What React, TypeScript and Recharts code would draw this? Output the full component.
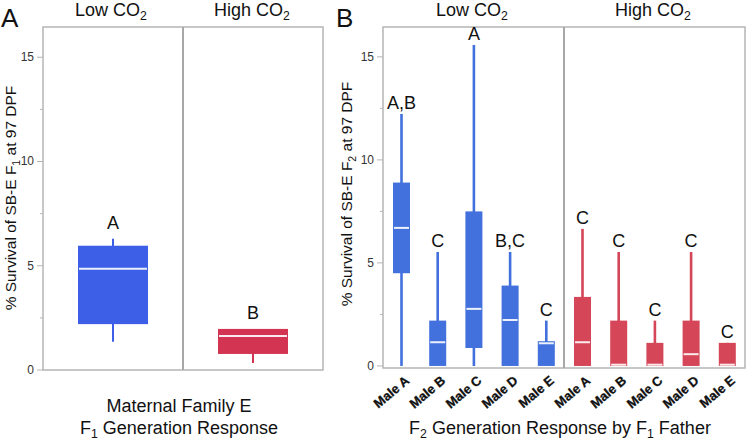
import React from 'react';
import { ComposedChart, Bar, XAxis, YAxis, ReferenceLine, ReferenceArea } from 'recharts';

// Panel A: maternal family E, F1
const groupsA = ['Low CO2', 'High CO2'];
const minA = [1.35, 0.34];
const q1A = [2.2, 0.77];
const medA = [4.85, 1.63];
const q3A = [5.96, 1.97];
const maxA = [6.3, 1.97];
const lettersA = ['A', 'B'];

// Panel B: F2 by F1 father
const males = ['Male A', 'Male B', 'Male C', 'Male D', 'Male E'];
const lowMin = [0, 0, 0, 0, 0];
const lowQ1 = [4.5, 0, 0.87, 0, 0];
const lowMed = [6.7, 1.15, 2.77, 2.23, 1.1];
const lowQ3 = [8.9, 2.2, 7.5, 3.9, 1.2];
const lowMax = [12.23, 5.53, 15.58, 5.53, 2.2];
const lowLetters = ['A,B', 'C', 'A', 'B,C', 'C'];

const highMin = [0, 0, 0, 0, 0];
const highQ1 = [0, 0, 0, 0, 0];
const highMed = [1.15, 0.06, 0.06, 0.57, 0.06];
const highQ3 = [3.35, 2.2, 1.12, 2.2, 1.12];
const highMax = [6.65, 5.53, 2.2, 5.53, 1.12];
const highLetters = ['C', 'C', 'C', 'C', 'C'];

const yTicks = [0, 2.5, 5, 7.5, 10, 12.5, 15];

const FONT = '"Liberation Sans", Arial, Helvetica, sans-serif';
const BLUE_A = '#3d5fe8';
const RED_A = '#d23452';
const BLUE_B = '#4270dd';
const RED_B = '#d54658';
const FRAME = '#b5b5b5';

const dataA = groupsA.map((g, i) => ({
  x: i + 0.5,
  group: g,
  range: [minA[i], maxA[i]],
  q1: q1A[i],
  med: medA[i],
  q3: q3A[i],
  letter: lettersA[i],
  color: i === 0 ? BLUE_A : RED_A,
}));

const dataB = [
  ...males.map((m, i) => ({
    x: i + 0.5,
    male: m,
    range: [lowMin[i], lowMax[i]],
    q1: lowQ1[i],
    med: lowMed[i],
    q3: lowQ3[i],
    letter: lowLetters[i],
    color: BLUE_B,
  })),
  ...males.map((m, i) => ({
    x: i + 5.5,
    male: m,
    range: [highMin[i], highMax[i]],
    q1: highQ1[i],
    med: highMed[i],
    q3: highQ3[i],
    letter: highLetters[i],
    color: RED_B,
  })),
];

const makeBox = (whiskerW: number, letterGap: number) => (props: any) => {
  const { x, y, width, height, payload } = props;
  const lo = payload.range[0];
  const hi = payload.range[1];
  const top = Math.min(y, y + height);
  const k = Math.abs(height) / (hi - lo);
  const py = (v: number) => top + (hi - v) * k;
  const cx = x + width / 2;
  const c = payload.color;
  return (
    <g>
      <line x1={cx} x2={cx} y1={py(hi)} y2={py(lo)} stroke={c} strokeWidth={whiskerW} />
      <rect x={x} y={py(payload.q3)} width={width} height={py(payload.q1) - py(payload.q3)} fill={c} />
      <line
        x1={x + 1}
        x2={x + width - 1}
        y1={py(payload.med)}
        y2={py(payload.med)}
        stroke="#ffffff"
        strokeOpacity={0.9}
        strokeWidth={2}
      />
      <text x={cx} y={py(hi) - letterGap} textAnchor="middle" fontSize={18} fill="#111" fontFamily={FONT}>
        {payload.letter}
      </text>
    </g>
  );
};

const makeYTick = (axisX: number) => (props: any) => {
  const { y, payload } = props;
  const major = payload.value % 5 === 0;
  return (
    <g>
      <line x1={axisX - (major ? 6 : 3)} x2={axisX} y1={y} y2={y} stroke={FRAME} strokeWidth={1} />
      {major && (
        <text x={axisX - 9} y={y} dy={4} textAnchor="end" fontSize={12} fill="#333" fontFamily={FONT}>
          {payload.value}
        </text>
      )}
    </g>
  );
};

const MaleTick = (props: any) => {
  const { x, y, payload } = props;
  const name = males[Math.floor(payload.value) % 5];
  return (
    <text
      transform={`translate(${x + 9},${y + 6}) rotate(-40)`}
      textAnchor="end"
      fontSize={13}
      fontWeight="bold"
      fill="#111"
      stroke="#111"
      strokeWidth={0.3}
      fontFamily={FONT}
    >
      {name}
    </text>
  );
};

// text with subscripts: parts alternate normal / subscript
const Rich = ({ parts }: { parts: string[] }) => (
  <>
    {parts.map((p, i) =>
      i % 2 === 1 ? (
        <tspan key={i} fontSize="0.68em" dy={4}>{p}</tspan>
      ) : (
        <tspan key={i} dy={i === 0 ? 0 : -4}>{p}</tspan>
      )
    )}
  </>
);

export default function App() {
  return (
    <div style={{ position: 'absolute', left: 0, top: 0, width: 746, height: 440, background: '#fff', fontFamily: FONT }}>
      <div style={{ position: 'absolute', left: 0, top: 0 }}>
        <ComposedChart width={330} height={440} data={dataA} margin={{ top: 27, right: 7, bottom: 70, left: 0 }}>
          <XAxis dataKey="x" type="number" domain={[0, 2]} hide />
          <YAxis
            type="number"
            domain={[0, 16.45]}
            ticks={yTicks}
            width={43}
            axisLine={false}
            tickLine={false}
            tick={makeYTick(43)}
            interval={0}
          />
          <ReferenceArea x1={0} x2={2} y1={0} y2={16.45} fill="none" stroke={FRAME} strokeWidth={1.5} />
          <ReferenceLine x={1} stroke="#a8a8a8" strokeWidth={2} />
          <Bar dataKey="range" barSize={70} isAnimationActive={false} shape={makeBox(2, 10)} />
        </ComposedChart>
      </div>
      <div style={{ position: 'absolute', left: 340, top: 0 }}>
        <ComposedChart width={406} height={440} data={dataB} margin={{ top: 27, right: 1, bottom: 12, left: 0 }}>
          <XAxis
            dataKey="x"
            type="number"
            domain={[0, 10]}
            ticks={[0.5, 1.5, 2.5, 3.5, 4.5, 5.5, 6.5, 7.5, 8.5, 9.5]}
            interval={0}
            height={60}
            axisLine={false}
            tickLine={false}
            tick={MaleTick}
          />
          <YAxis
            type="number"
            domain={[-0.1, 16.45]}
            ticks={yTicks}
            width={43}
            axisLine={false}
            tickLine={false}
            tick={makeYTick(43)}
            interval={0}
          />
          <ReferenceArea x1={0} x2={10} y1={-0.1} y2={16.45} fill="none" stroke={FRAME} strokeWidth={1.5} />
          <ReferenceLine x={5} stroke="#a8a8a8" strokeWidth={2} />
          <Bar dataKey="range" barSize={17} isAnimationActive={false} shape={makeBox(2.6, 5)} />
        </ComposedChart>
      </div>
      <svg
        width={746}
        height={440}
        style={{ position: 'absolute', left: 0, top: 0, pointerEvents: 'none' }}
        fontFamily={FONT}
        fill="#111"
      >
        <text x={1} y={27} fontSize={26}>A</text>
        <text x={336} y={27} fontSize={26}>B</text>

        <text x={111} y={16} fontSize={18} textAnchor="middle"><Rich parts={['Low CO', '2']} /></text>
        <text x={252} y={16} fontSize={18} textAnchor="middle"><Rich parts={['High CO', '2']} /></text>
        <text x={472} y={16} fontSize={18} textAnchor="middle"><Rich parts={['Low CO', '2']} /></text>
        <text x={653} y={16} fontSize={18} textAnchor="middle"><Rich parts={['High CO', '2']} /></text>

        <text transform="translate(16,198) rotate(-90)" fontSize={15.5} textAnchor="middle">
          <Rich parts={['% Survival of SB-E F', '1', ' at 97 DPF']} />
        </text>
        <text transform="translate(352,194) rotate(-90)" fontSize={15.5} textAnchor="middle">
          <Rich parts={['% Survival of SB-E F', '2', ' at 97 DPF']} />
        </text>

        <text x={179} y={412} fontSize={18} textAnchor="middle">Maternal Family E</text>
        <text x={179} y={434} fontSize={18} textAnchor="middle">
          <Rich parts={['F', '1', ' Generation Response']} />
        </text>
        <text x={560} y={434} fontSize={18} textAnchor="middle">
          <Rich parts={['F', '2', ' Generation Response by F', '1', ' Father']} />
        </text>
      </svg>
    </div>
  );
}
